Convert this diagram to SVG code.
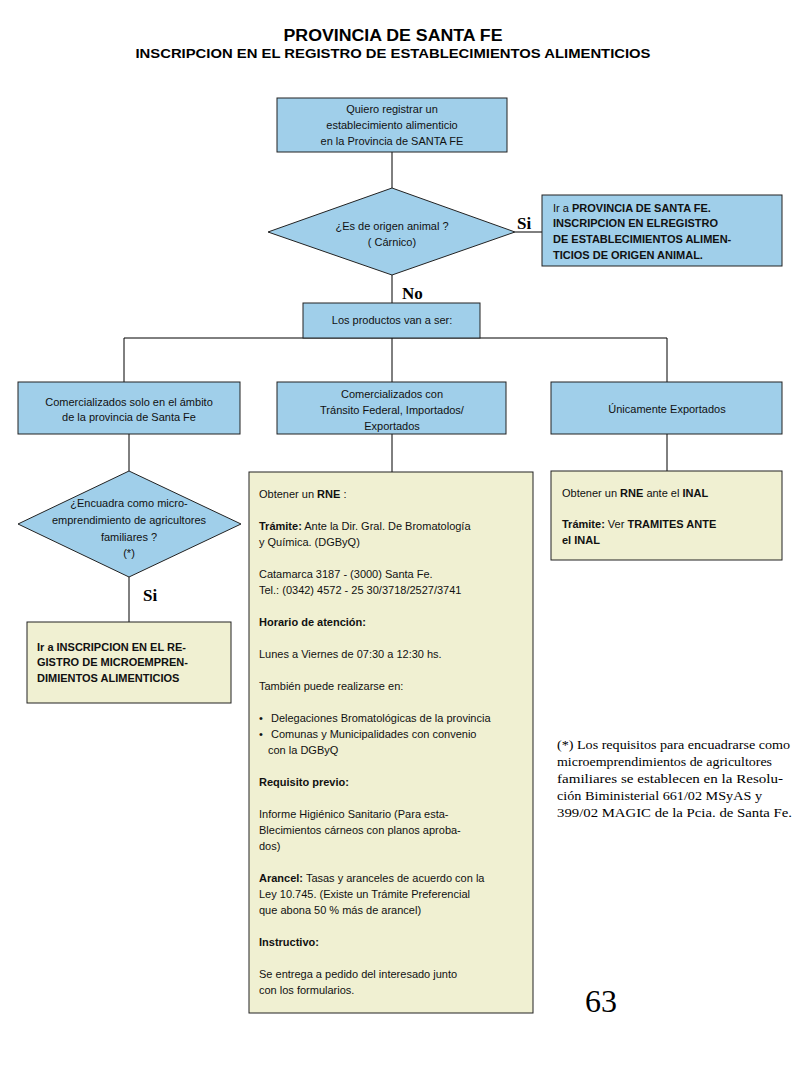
<svg xmlns="http://www.w3.org/2000/svg" width="800" height="1066" viewBox="0 0 800 1066">
<style>
.bg{fill:#ffffff}
.blue{fill:#a0cfea;stroke:#222;stroke-width:1}
.yel{fill:#f0f0d2;stroke:#222;stroke-width:1}
.t{font-family:"Liberation Sans",Arial,sans-serif;font-size:11px;fill:#111}
.c{text-anchor:middle}
.b{font-weight:bold}
.h{font-family:"Liberation Sans",Arial,sans-serif;font-weight:bold;fill:#000;text-anchor:middle}
.lbl{font-family:"Liberation Serif","Times New Roman",serif;font-weight:bold;font-size:17px;fill:#000}
.fn{font-family:"Liberation Serif","Times New Roman",serif;font-size:13.5px;fill:#000}
.conn line{stroke:#000;stroke-width:1}
</style>
<rect class="bg" x="0" y="0" width="800" height="1066"/>
<g id="title">
<text class="h" x="393" y="41" font-size="16" textLength="219" lengthAdjust="spacingAndGlyphs">PROVINCIA DE SANTA FE</text>
<text class="h" x="393" y="58" font-size="13" textLength="515" lengthAdjust="spacingAndGlyphs">INSCRIPCION EN EL REGISTRO DE ESTABLECIMIENTOS ALIMENTICIOS</text>
</g>
<g class="conn" id="connectors">
<line x1="392" y1="152" x2="392" y2="188"/>
<line x1="515" y1="232" x2="542" y2="232"/>
<line x1="392" y1="275" x2="392" y2="303"/>
<line x1="392" y1="338" x2="392" y2="382"/>
<line x1="124" y1="338" x2="667" y2="338"/>
<line x1="124" y1="338" x2="124" y2="382"/>
<line x1="667" y1="338" x2="667" y2="382"/>
<line x1="129" y1="434" x2="129" y2="471"/>
<line x1="129" y1="577" x2="129" y2="622"/>
<line x1="392" y1="434" x2="392" y2="472"/>
<line x1="667" y1="434" x2="667" y2="471"/>
</g>
<g id="start">
<rect class="blue" x="277" y="98" width="230" height="54"/>
<text class="t c" x="392" y="113">Quiero registrar un</text>
<text class="t c" x="392" y="129">establecimiento alimenticio</text>
<text class="t c" x="392" y="145">en la Provincia de SANTA FE</text>
</g>
<g id="d1">
<polygon class="blue" points="392,188 515,232 392,275 268,232"/>
<text class="t c" x="392" y="230">¿Es de origen animal ?</text>
<text class="t c" x="392" y="246">( Cárnico)</text>
</g>
<text class="lbl" x="517" y="229">Si</text>
<text class="lbl" x="402" y="299">No</text>
<g id="animal">
<rect class="blue" x="542" y="195" width="240" height="71"/>
<text class="t" x="553" y="212" font-size="10.5"><tspan>Ir a </tspan><tspan class="b">PROVINCIA DE SANTA FE.</tspan></text>
<text class="t b" x="553" y="227" font-size="10.5">INSCRIPCION EN ELREGISTRO</text>
<text class="t b" x="553" y="243" font-size="10.5">DE ESTABLECIMIENTOS ALIMEN-</text>
<text class="t b" x="553" y="259" font-size="10.5">TICIOS DE ORIGEN ANIMAL.</text>
</g>
<g id="productos">
<rect class="blue" x="303" y="303" width="177" height="35"/>
<text class="t c" x="392" y="324">Los productos van a ser:</text>
</g>
<g id="provincial">
<rect class="blue" x="18" y="382" width="222" height="52"/>
<text class="t c" x="129" y="406">Comercializados solo en el ámbito</text>
<text class="t c" x="129" y="421">de la provincia de Santa Fe</text>
</g>
<g id="federal">
<rect class="blue" x="277" y="382" width="229" height="52"/>
<text class="t c" x="392" y="398">Comercializados con</text>
<text class="t c" x="392" y="414">Tránsito Federal, Importados/</text>
<text class="t c" x="392" y="430">Exportados</text>
</g>
<g id="exportados">
<rect class="blue" x="551" y="382" width="231" height="52"/>
<text class="t c" x="667" y="413">Únicamente Exportados</text>
</g>
<g id="d2">
<polygon class="blue" points="129,471 241,524 129,577 18,524"/>
<text class="t c" x="129" y="507">¿Encuadra como micro-</text>
<text class="t c" x="129" y="524">emprendimiento de agricultores</text>
<text class="t c" x="129" y="541">familiares ?</text>
<text class="t c" x="129" y="557">(*)</text>
</g>
<text class="lbl" x="143" y="601">Si</text>
<g id="micro">
<rect class="yel" x="27" y="622" width="204" height="81"/>
<text class="t b" x="37" y="651" font-size="10.5">Ir a INSCRIPCION EN EL RE-</text>
<text class="t b" x="37" y="666" font-size="10.5">GISTRO DE MICROEMPREN-</text>
<text class="t b" x="37" y="682" font-size="10.5">DIMIENTOS ALIMENTICIOS</text>
</g>
<g id="rne">
<rect class="yel" x="249" y="472" width="284" height="541"/>
<text class="t" x="259" y="498">Obtener un <tspan class="b">RNE</tspan> :</text>
<text class="t" x="259" y="530"><tspan class="b">Trámite:</tspan> Ante la Dir. Gral. De Bromatología</text>
<text class="t" x="259" y="546">y Química. (DGByQ)</text>
<text class="t" x="259" y="578">Catamarca 3187 - (3000) Santa Fe.</text>
<text class="t" x="259" y="594">Tel.: (0342) 4572 - 25 30/3718/2527/3741</text>
<text class="t b" x="259" y="626">Horario de atención:</text>
<text class="t" x="259" y="658">Lunes a Viernes de 07:30 a 12:30 hs.</text>
<text class="t" x="259" y="690">También puede realizarse en:</text>
<text class="t" x="259" y="722">•</text>
<text class="t" x="271" y="722">Delegaciones Bromatológicas de la provincia</text>
<text class="t" x="259" y="738">•</text>
<text class="t" x="271" y="738">Comunas y Municipalidades con convenio</text>
<text class="t" x="268" y="754">con la DGByQ</text>
<text class="t b" x="259" y="786">Requisito previo:</text>
<text class="t" x="259" y="818">Informe Higiénico Sanitario (Para esta-</text>
<text class="t" x="259" y="834">Blecimientos cárneos con planos aproba-</text>
<text class="t" x="259" y="850">dos)</text>
<text class="t" x="259" y="882"><tspan class="b">Arancel:</tspan> Tasas y aranceles de acuerdo con la</text>
<text class="t" x="259" y="898">Ley 10.745. (Existe un Trámite Preferencial</text>
<text class="t" x="259" y="914">que abona 50 % más de arancel)</text>
<text class="t b" x="259" y="946">Instructivo:</text>
<text class="t" x="259" y="978">Se entrega a pedido del interesado junto</text>
<text class="t" x="259" y="994">con los formularios.</text>
</g>
<g id="inal">
<rect class="yel" x="551" y="471" width="231" height="89"/>
<text class="t" x="562" y="497">Obtener un <tspan class="b">RNE</tspan> ante el <tspan class="b">INAL</tspan></text>
<text class="t" x="562" y="528"><tspan class="b">Trámite:</tspan> Ver <tspan class="b">TRAMITES ANTE</tspan></text>
<text class="t b" x="562" y="544">el INAL</text>
</g>
<g id="footnote">
<text class="fn" x="557" y="749" textLength="233" lengthAdjust="spacingAndGlyphs">(*) Los requisitos para encuadrarse como</text>
<text class="fn" x="557" y="766" textLength="215" lengthAdjust="spacingAndGlyphs">microemprendimientos de agricultores</text>
<text class="fn" x="557" y="783" textLength="226" lengthAdjust="spacingAndGlyphs">familiares se establecen en la Resolu-</text>
<text class="fn" x="557" y="800" textLength="205" lengthAdjust="spacingAndGlyphs">ción Biministerial 661/02 MSyAS y</text>
<text class="fn" x="557" y="817" textLength="235" lengthAdjust="spacingAndGlyphs">399/02 MAGIC de la Pcia. de Santa Fe.</text>
</g>
<text x="585" y="1012" font-family="'Liberation Serif','Times New Roman',serif" font-size="32" fill="#000">63</text>
</svg>
